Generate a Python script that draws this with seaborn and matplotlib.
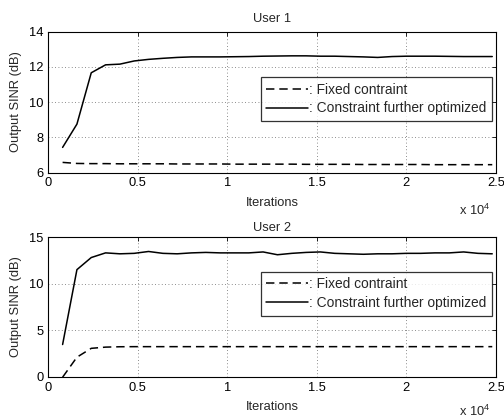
import numpy as np
import pandas as pd
import matplotlib
matplotlib.use("Agg")
import matplotlib.pyplot as plt
from matplotlib.ticker import FuncFormatter
import seaborn as sns

iterations = [800 * k for k in range(1, 32)]

u1_fixed = [6.58, 6.52, 6.51, 6.51, 6.50, 6.50, 6.50, 6.50, 6.49, 6.49, 6.49,
            6.49, 6.48, 6.48, 6.48, 6.48, 6.48, 6.47, 6.47, 6.47, 6.47, 6.46,
            6.46, 6.46, 6.46, 6.46, 6.45, 6.45, 6.45, 6.45, 6.45]
u1_opt = [7.43, 8.75, 11.66, 12.11, 12.15, 12.33, 12.42, 12.48, 12.53, 12.56,
          12.56, 12.56, 12.57, 12.58, 12.60, 12.61, 12.62, 12.62, 12.60, 12.60,
          12.58, 12.56, 12.53, 12.58, 12.60, 12.60, 12.60, 12.59, 12.58, 12.58,
          12.58]
u2_fixed = [-0.05, 2.1, 3.05, 3.18, 3.22, 3.23, 3.23, 3.23, 3.23, 3.23, 3.23,
            3.23, 3.23, 3.23, 3.23, 3.23, 3.23, 3.23, 3.23, 3.23, 3.23, 3.23,
            3.23, 3.23, 3.23, 3.23, 3.23, 3.23, 3.23, 3.23, 3.23]
u2_opt = [3.46, 11.5, 12.8, 13.3, 13.2, 13.25, 13.45, 13.25, 13.2, 13.3, 13.35,
          13.3, 13.3, 13.3, 13.4, 13.1, 13.25, 13.35, 13.4, 13.25, 13.2, 13.15,
          13.2, 13.2, 13.25, 13.25, 13.3, 13.3, 13.4, 13.25, 13.2]

titles = ["User 1", "User 2"]
labels = [": Fixed contraint", ": Constraint further optimized"]
xticks = [0, 5000, 10000, 15000, 20000, 25000]
yticks_list = [[6, 8, 10, 12, 14], [0, 5, 10, 15]]
ylims = [(6, 14), (0, 15)]

sns.set_style("white")
plt.rcParams['font.family'] = ['Liberation Sans', 'DejaVu Sans']
plt.rcParams['mathtext.fontset'] = 'custom'
plt.rcParams['mathtext.rm'] = 'Liberation Sans'
fs = 9.3
lfs = 9.9

fig = plt.figure(figsize=(5.04, 4.2), dpi=100)
ax1 = fig.add_axes([0.0958, 0.589, 0.888, 0.336])
ax2 = fig.add_axes([0.0958, 0.103, 0.888, 0.3326])

data = [(u1_fixed, u1_opt), (u2_fixed, u2_opt)]
anchors = [(0.991, 0.677), (0.991, 0.752)]
title_pads = [7.0, 4.5]
off_y = [-0.265, -0.25]

for i, ax in enumerate([ax1, ax2]):
    fixed, opt = data[i]
    sns.lineplot(x=iterations, y=fixed, ax=ax, color='black', lw=1.1,
                 linestyle=(0, (5.5, 3.2)), label=labels[0])
    sns.lineplot(x=iterations, y=opt, ax=ax, color='black', lw=1.1,
                 label=labels[1])
    ax.set_xlim(0, 25000)
    ax.set_ylim(*ylims[i])
    ax.set_xticks(xticks)
    ax.set_yticks(yticks_list[i])
    ax.xaxis.set_major_formatter(FuncFormatter(lambda v, p: f"{v/1e4:g}"))
    ax.grid(True, linestyle=(0, (1, 3)), color='black', lw=0.6, alpha=0.6)
    ax.tick_params(direction='in', length=3, width=0.6, top=True, right=True,
                   labelsize=fs, colors='black', pad=3.5)
    for s in ax.spines.values():
        s.set_color('black')
        s.set_linewidth(0.8)
    ax.set_title(titles[i], fontsize=fs, pad=title_pads[i])
    ax.set_xlabel("Iterations", fontsize=fs, labelpad=5.5)
    ax.set_ylabel("Output SINR (dB)", fontsize=fs, labelpad=5)
    ax.text(0.987, off_y[i], r"x 10$^{4}$", transform=ax.transAxes, fontsize=fs,
            ha='right', va='center')
    leg = ax.legend(loc='upper right', bbox_to_anchor=anchors[i], fontsize=lfs,
                    frameon=True, fancybox=False, handlelength=3.0,
                    handletextpad=0.1, borderpad=0.4, labelspacing=0.35,
                    borderaxespad=0)
    leg.get_frame().set_edgecolor('black')
    leg.get_frame().set_linewidth(0.9)

fig.savefig("out.png", dpi=100)
